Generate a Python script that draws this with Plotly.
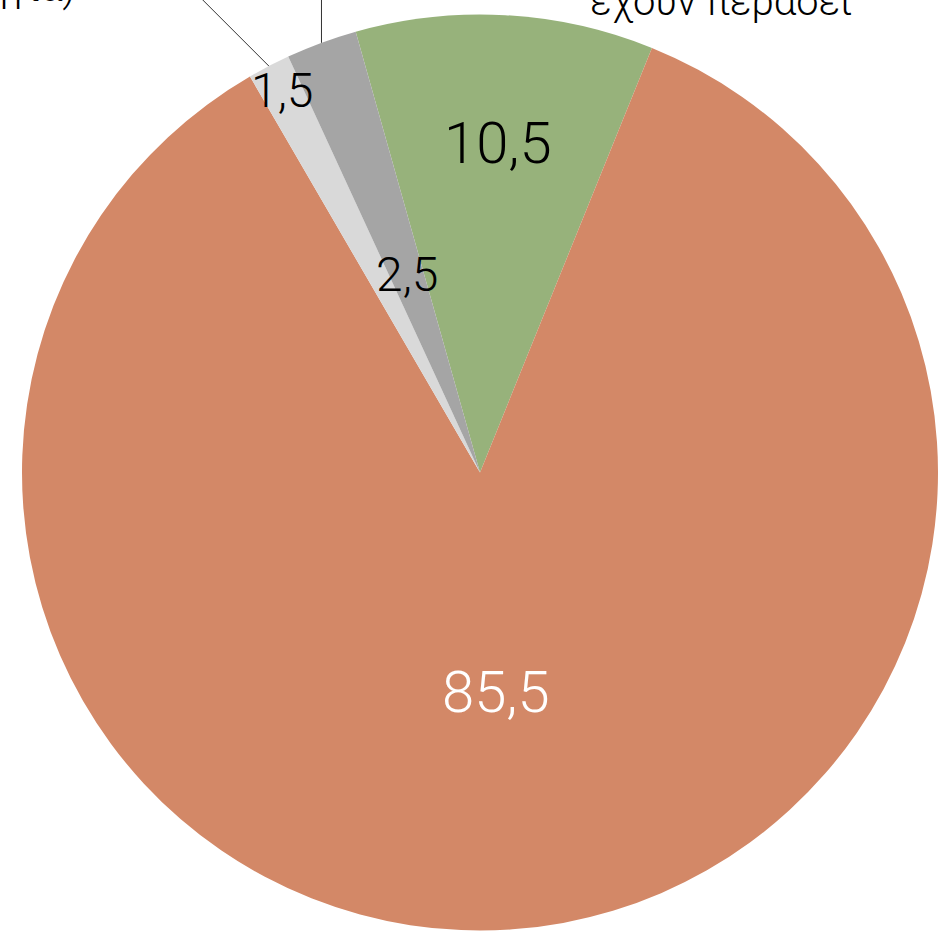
import numpy as np
import plotly.graph_objects as go

# ---- data ----
categories = ["Όσοι έχουν περάσει", "Όσοι δεν έχουν περάσει", "Άλλο (στρατηγία)", "Δεν απάντησαν"]
values = [10.5, 85.5, 1.5, 2.5]
value_labels = [f"{v:.1f}".replace(".", ",") for v in values]
colors = ["#97B27B", "#D38867", "#D9D9D9", "#A5A5A5"]

# ---- geometry / style ----
W_FIG, H_FIG = 938, 937
L, T = 22, 8
W, H = W_FIG - L, H_FIG - T
R = min(W, H) / 2
CX, CY = L + W / 2, T + H / 2
ROTATION = -15.75
label_radius = [0.72, 0.48, 0.94, 0.46]
label_sizes = [58, 58, 48, 48]
label_colors = ["black", "white", "black", "black"]
FONT = "Roboto"

def to_paper(px, py):
    return (px - L) / W, 1 - (py - T) / H

fig = go.Figure(go.Pie(
    labels=categories, values=values, sort=False, direction="clockwise",
    rotation=ROTATION, textinfo="none", hoverinfo="skip",
    marker=dict(colors=colors, line=dict(width=0)), showlegend=False,
    domain=dict(x=[0, 1], y=[0, 1]),
))

total = sum(values)
start = np.cumsum([0] + values[:-1]) / total * 360 + ROTATION
mid = start + np.array(values) / total * 180

annotations = []
for i, txt in enumerate(value_labels):
    a = np.radians(mid[i])
    px = CX + label_radius[i] * R * np.sin(a)
    py = CY - label_radius[i] * R * np.cos(a)
    x, y = to_paper(px, py)
    annotations.append(dict(x=x, y=y, xref="paper", yref="paper", text=txt, showarrow=False,
                            font=dict(family=FONT, size=label_sizes[i], color=label_colors[i], weight=300),
                            xanchor="center", yanchor="middle"))

# category labels (cut off at the top of the frame, as in the reference)
gx, gy = to_paper(721, 26)
annotations.append(dict(x=gx, y=gy, xref="paper", yref="paper", text="Όσοι<br>έχουν περάσει",
                        showarrow=False, xanchor="center", yanchor="bottom", borderpad=0,
                        font=dict(family=FONT, size=40, color="black", weight=300)))
lx, ly = to_paper(76, 12)
annotations.append(dict(x=lx, y=ly, xref="paper", yref="paper", text="Άλλο<br>(στρατηγία)",
                        showarrow=False, xanchor="right", yanchor="bottom", borderpad=0,
                        font=dict(family=FONT, size=40, color="black", weight=300)))

shapes = []
# leader line: light grey slice (diagonal up-left)
a = np.radians(mid[2])
x0p, y0p = CX + R * np.sin(a), CY - R * np.cos(a)
x0, y0 = to_paper(x0p, y0p)
x1, y1 = to_paper(x0p - 80, y0p - 80)
shapes.append(dict(type="line", xref="paper", yref="paper", x0=x0, y0=y0, x1=x1, y1=y1,
                   line=dict(color="#333333", width=1)))
# leader line: dark grey slice (vertical)
a = np.radians(mid[3])
x0p, y0p = CX + R * np.sin(a), CY - R * np.cos(a)
x0, y0 = to_paper(x0p, y0p)
x1, y1 = to_paper(x0p, y0p - 60)
shapes.append(dict(type="line", xref="paper", yref="paper", x0=x0, y0=y0, x1=x1, y1=y1,
                   line=dict(color="#333333", width=1)))

fig.update_layout(width=W_FIG, height=H_FIG, margin=dict(l=L, r=0, t=T, b=0),
                  paper_bgcolor="white", plot_bgcolor="white",
                  annotations=annotations, shapes=shapes)

fig.write_html("out.html", config={"displayModeBar": False},
               post_script="document.body.style.margin='0';document.body.style.overflow='hidden';")
